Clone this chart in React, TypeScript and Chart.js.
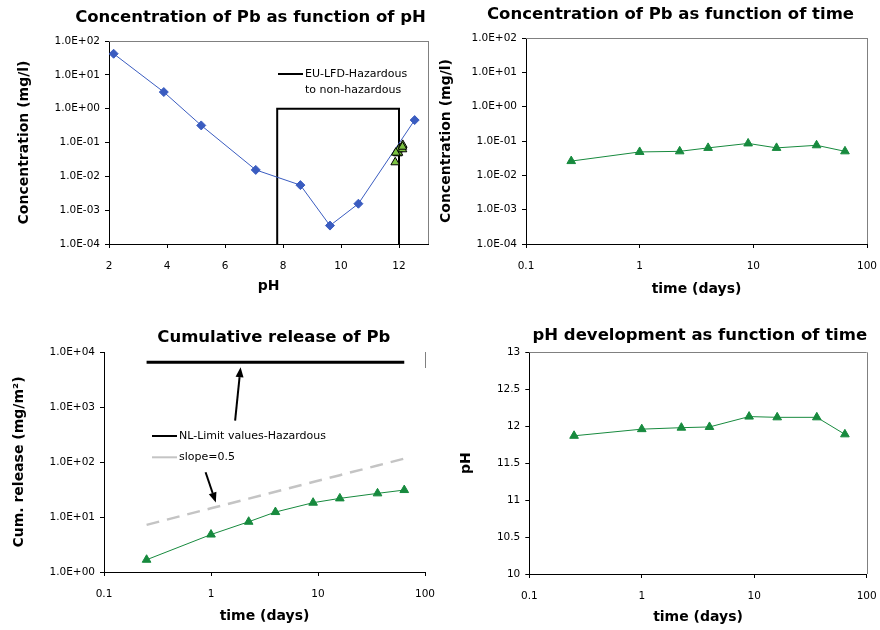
import React, { useEffect, useRef } from 'react';
import { Chart, registerables } from 'chart.js';

Chart.register(...registerables);

const FONT = "'DejaVu Sans', Verdana, sans-serif";

// ---------- data ----------
const days = [0.25, 1, 2.25, 4, 9, 16, 36, 64];
const concTime = [0.026, 0.048, 0.05, 0.063, 0.085, 0.063, 0.075, 0.05];
const phTime = [11.87, 11.96, 11.98, 11.99, 12.13, 12.12, 12.12, 11.89];
const cumRelease = [1.67, 4.8, 8.2, 12.3, 18.2, 21.8, 26.9, 30.9];
const slopeHalf = [7.2, 14.4, 21.6, 28.8, 43.2, 57.6, 86.4, 115.2];

const phDep = [2.16, 3.89, 5.18, 7.06, 8.6, 9.62, 10.6, 12.54];
const concPhDep = [42, 3.1, 0.32, 0.0155, 0.0055, 0.00035, 0.00155, 0.46];

const lfdBoxPH = [7.8, 7.8, 12, 12];
const lfdBoxConc = [0.0001, 1, 1, 0.0001];

const nlLimitDays = [0.25, 64];
const nlLimitValue = [6500, 6500];

// arrows: [tailDay, tailValue, headDay, headValue]
const arrowNL = [1.68, 565, 1.89, 5300];
const arrowSlope = [0.89, 65, 1.11, 18.4];

const concTicks = [0.0001, 0.001, 0.01, 0.1, 1, 10, 100];
const cumTicks = [1, 10, 100, 1000, 10000];
const dayTicks = [0.1, 1, 10, 100];
const phAxisTicks = [2, 4, 6, 8, 10, 12];
const phLevelTicks = [10, 10.5, 11, 11.5, 12, 12.5, 13];

// ---------- helpers ----------
const fmtExp = (v: number) => {
  const e = Math.round(Math.log10(v));
  return '1.0E' + (e < 0 ? '-' : '+') + String(Math.abs(e)).padStart(2, '0');
};
const fmtPlain = (v: number) => String(v);

const pts = (xs: number[], ys: number[]) => xs.map((x, i) => ({ x, y: ys[i] }));

function axis(o: any) {
  return {
    type: o.type,
    min: o.min,
    max: o.max,
    afterBuildTicks: (s: any) => {
      s.ticks = o.ticks.map((v: number) => ({ value: v }));
    },
    afterFit: (s: any) => {
      if (o.horizontal) s.height = o.size;
      else s.width = o.size;
      s.paddingLeft = 0;
      s.paddingRight = 0;
      s.paddingTop = 0;
      s.paddingBottom = 0;
    },
    ticks: {
      callback: (v: any) => o.fmt(Number(v)),
      font: { family: FONT, size: 10.5 },
      color: '#000',
      padding: o.horizontal ? 12 : 5,
      autoSkip: false,
      maxRotation: 0,
      minRotation: 0,
    },
    grid: {
      display: true,
      drawOnChartArea: false,
      drawTicks: true,
      tickLength: 4,
      tickColor: '#000',
      color: '#000',
    },
    border: { display: true, color: '#000', width: 1 },
    title: {
      display: true,
      text: o.title,
      color: '#000',
      font: { family: FONT, size: 14, weight: 'bold', lineHeight: 1.2 },
      padding: o.horizontal ? { top: 0, bottom: o.titlePad } : { top: o.titlePad, bottom: 0 },
    },
  };
}

function overlay(o: any) {
  return {
    id: 'overlay',
    beforeDatasetsDraw(chart: any) {
      const { ctx, chartArea: a } = chart;
      ctx.save();
      ctx.strokeStyle = '#808080';
      ctx.lineWidth = 1;
      ctx.beginPath();
      if (o.frameTop) {
        ctx.moveTo(a.left, Math.round(a.top) + 0.5);
        ctx.lineTo(a.right, Math.round(a.top) + 0.5);
      }
      const rb = o.frameRight === true ? a.bottom : a.top + (o.frameRight || 0);
      if (o.frameRight) {
        ctx.moveTo(Math.round(a.right) + 0.5, a.top);
        ctx.lineTo(Math.round(a.right) + 0.5, rb);
      }
      ctx.stroke();
      ctx.restore();
    },
    afterDatasetsDraw(chart: any) {
      const { ctx } = chart;
      ctx.save();
      // legend
      (o.legend || []).forEach((L: any) => {
        ctx.strokeStyle = L.color;
        ctx.lineWidth = L.width;
        ctx.beginPath();
        ctx.moveTo(L.x, L.y);
        ctx.lineTo(L.x + 25, L.y);
        ctx.stroke();
        ctx.fillStyle = '#000';
        ctx.font = `11px ${FONT}`;
        ctx.textAlign = 'left';
        ctx.textBaseline = 'middle';
        L.lines.forEach((t: string, i: number) => {
          ctx.fillText(t, L.x + 27, L.y + i * 16);
        });
      });
      // arrows
      const xs = chart.scales.x;
      const ys = chart.scales.y;
      (o.arrows || []).forEach((ar: number[]) => {
        const x0 = xs.getPixelForValue(ar[0]);
        const y0 = ys.getPixelForValue(ar[1]);
        const x1 = xs.getPixelForValue(ar[2]);
        const y1 = ys.getPixelForValue(ar[3]);
        const ang = Math.atan2(y1 - y0, x1 - x0);
        const hl = 10;
        const hw = 4;
        const bx = x1 - hl * Math.cos(ang);
        const by = y1 - hl * Math.sin(ang);
        ctx.strokeStyle = '#000';
        ctx.lineWidth = 2;
        ctx.beginPath();
        ctx.moveTo(x0, y0);
        ctx.lineTo(bx, by);
        ctx.stroke();
        ctx.fillStyle = '#000';
        ctx.beginPath();
        ctx.moveTo(x1, y1);
        ctx.lineTo(bx + hw * Math.sin(ang), by - hw * Math.cos(ang));
        ctx.lineTo(bx - hw * Math.sin(ang), by + hw * Math.cos(ang));
        ctx.closePath();
        ctx.fill();
      });
      ctx.restore();
    },
    afterDraw(chart: any) {
      const { ctx } = chart;
      ctx.save();
      ctx.fillStyle = '#000';
      ctx.font = `bold 16.5px ${FONT}`;
      ctx.textAlign = 'center';
      ctx.textBaseline = 'middle';
      ctx.fillText(o.title, o.titleX, o.titleY);
      ctx.restore();
    },
  };
}

const GREEN = '#178a3e';
const BLUE = '#3a5cc0';

const greenSeries = (data: any) => ({
  data,
  borderColor: GREEN,
  backgroundColor: GREEN,
  borderWidth: 1,
  pointStyle: 'triangle',
  pointRadius: 5,
  pointBorderWidth: 1,
  pointBorderColor: GREEN,
  pointBackgroundColor: GREEN,
});

function baseOptions(padding: any, scales: any) {
  return {
    responsive: false,
    animation: false,
    layout: { padding },
    plugins: { legend: { display: false }, tooltip: { enabled: false }, title: { display: false } },
    scales,
  };
}

const panels = [
  {
    key: 'ph',
    rect: { left: 0, top: 0, w: 440, h: 315 },
    make: () => ({
      type: 'line',
      data: {
        datasets: [
          {
            data: pts(phTime, concTime),
            showLine: false,
            pointStyle: 'triangle',
            pointRadius: 5,
            pointBorderWidth: 1,
            pointBorderColor: '#000',
            pointBackgroundColor: '#7cc242',
          },
          {
            data: pts(phDep, concPhDep),
            borderColor: BLUE,
            borderWidth: 1,
            pointStyle: 'rectRot',
            pointRadius: 4.5,
            pointBorderWidth: 1,
            pointBorderColor: BLUE,
            pointBackgroundColor: BLUE,
          },
          {
            data: pts(lfdBoxPH, lfdBoxConc),
            borderColor: '#000',
            borderWidth: 2,
            pointRadius: 0,
          },
        ],
      },
      options: baseOptions(
        { left: 12, right: 12, top: 41, bottom: 11 },
        {
          x: axis({ type: 'linear', min: 2, max: 13, ticks: phAxisTicks, fmt: fmtPlain, horizontal: true, size: 60, title: 'pH', titlePad: 9 }),
          y: axis({ type: 'logarithmic', min: 0.0001, max: 100, ticks: concTicks, fmt: fmtExp, size: 97, title: 'Concentration (mg/l)', titlePad: 3.6 }),
        }
      ),
      plugins: [
        overlay({
          title: 'Concentration of Pb as function of pH',
          titleX: 250.5,
          titleY: 18,
          frameTop: true,
          frameRight: true,
          legend: [{ x: 278, y: 74, color: '#000', width: 2, lines: ['EU-LFD-Hazardous', 'to non-hazardous'] }],
        }),
      ],
    }),
  },
  {
    key: 'conc',
    rect: { left: 430, top: 0, w: 450, h: 315 },
    make: () => ({
      type: 'line',
      data: { datasets: [greenSeries(pts(days, concTime))] },
      options: baseOptions(
        { left: 6, right: 13, top: 38, bottom: 11 },
        {
          x: axis({ type: 'logarithmic', min: 0.1, max: 100, ticks: dayTicks, fmt: fmtPlain, horizontal: true, size: 60, title: 'time (days)', titlePad: 6.3 }),
          y: axis({ type: 'logarithmic', min: 0.0001, max: 100, ticks: concTicks, fmt: fmtExp, size: 90, title: 'Concentration (mg/l)', titlePad: 2.3 }),
        }
      ),
      plugins: [
        overlay({ title: 'Concentration of Pb as function of time', titleX: 240.5, titleY: 15, frameTop: true, frameRight: true }),
      ],
    }),
  },
  {
    key: 'cum',
    rect: { left: 0, top: 315, w: 440, h: 315 },
    make: () => ({
      type: 'line',
      data: {
        datasets: [
          greenSeries(pts(days, cumRelease)),
          {
            data: pts(days, slopeHalf),
            borderColor: '#c4c4c4',
            borderWidth: 2.5,
            borderDash: [13, 8],
            pointRadius: 0,
          },
          {
            data: pts(nlLimitDays, nlLimitValue),
            borderColor: '#000',
            borderWidth: 3,
            pointRadius: 0,
          },
        ],
      },
      options: baseOptions(
        { left: 8, right: 15, top: 37, bottom: 0 },
        {
          x: axis({ type: 'logarithmic', min: 0.1, max: 100, ticks: dayTicks, fmt: fmtPlain, horizontal: true, size: 58, title: 'time (days)', titlePad: 4.9 }),
          y: axis({ type: 'logarithmic', min: 1, max: 10000, ticks: cumTicks, fmt: fmtExp, size: 96, title: 'Cum. release (mg/m²)', titlePad: 2.6 }),
        }
      ),
      plugins: [
        overlay({
          title: 'Cumulative release of Pb',
          titleX: 273.8,
          titleY: 22.3,
          frameTop: false,
          frameRight: 16,
          legend: [
            { x: 152, y: 121, color: '#000', width: 2, lines: ['NL-Limit values-Hazardous'] },
            { x: 152, y: 142.3, color: '#c4c4c4', width: 2, lines: ['slope=0.5'] },
          ],
          arrows: [arrowNL, arrowSlope],
        }),
      ],
    }),
  },
  {
    key: 'phT',
    rect: { left: 440, top: 315, w: 440, h: 315 },
    make: () => ({
      type: 'line',
      data: { datasets: [greenSeries(pts(days, phTime))] },
      options: baseOptions(
        { left: 10, right: 13.3, top: 37.3, bottom: 0 },
        {
          x: axis({ type: 'logarithmic', min: 0.1, max: 100, ticks: dayTicks, fmt: fmtPlain, horizontal: true, size: 56, title: 'time (days)', titlePad: 3.9 }),
          y: axis({ type: 'linear', min: 10, max: 13, ticks: phLevelTicks, fmt: fmtPlain, size: 79.3, title: 'pH', titlePad: 8.3 }),
        }
      ),
      plugins: [
        overlay({ title: 'pH development as function of time', titleX: 259.8, titleY: 20.7, frameTop: true, frameRight: true }),
      ],
    }),
  },
];

function Panel({ rect, make }: any) {
  const ref = useRef<HTMLCanvasElement | null>(null);
  useEffect(() => {
    const chart = new Chart(ref.current as HTMLCanvasElement, make());
    return () => chart.destroy();
  }, []);
  return (
    <canvas
      ref={ref}
      width={rect.w}
      height={rect.h}
      style={{ position: 'absolute', left: rect.left, top: rect.top, width: rect.w, height: rect.h }}
    />
  );
}

export default function App() {
  return (
    <div style={{ position: 'absolute', left: 0, top: 0, width: 880, height: 630, background: '#fff' }}>
      {panels.map((p) => (
        <Panel key={p.key} rect={p.rect} make={p.make} />
      ))}
    </div>
  );
}
